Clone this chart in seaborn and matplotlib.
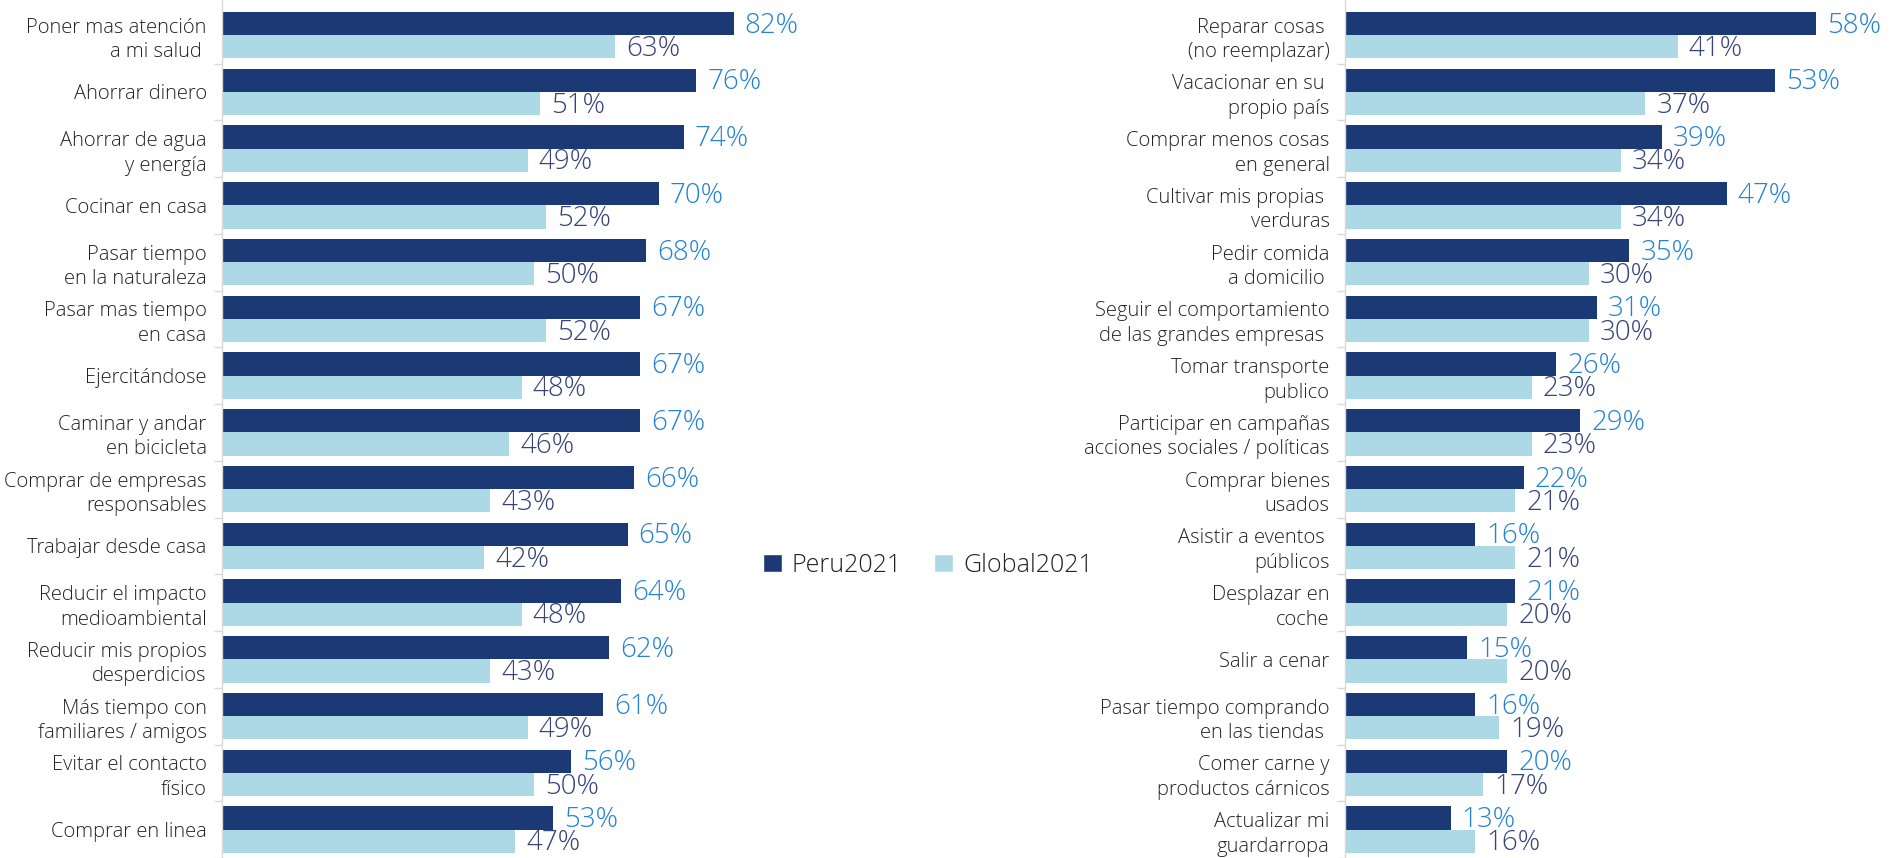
import numpy as np
import pandas as pd
import matplotlib.pyplot as plt
import seaborn as sns
from matplotlib.patches import Patch

# Datos
left_cats = ["Poner mas atención\na mi salud ", "Ahorrar dinero", "Ahorrar de agua\ny energía",
             "Cocinar en casa", "Pasar tiempo\nen la naturaleza", "Pasar mas tiempo\nen casa",
             "Ejercitándose", "Caminar y andar\nen bicicleta", "Comprar de empresas\nresponsables",
             "Trabajar desde casa", "Reducir el impacto\nmedioambiental", "Reducir mis propios\ndesperdicios",
             "Más tiempo con\nfamiliares / amigos", "Evitar el contacto\nfísico", "Comprar en linea"]
left_peru = [82, 76, 74, 70, 68, 67, 67, 67, 66, 65, 64, 62, 61, 56, 53]
left_global = [63, 51, 49, 52, 50, 52, 48, 46, 43, 42, 48, 43, 49, 50, 47]

right_cats = ["Reparar cosas \n(no reemplazar)", "Vacacionar en su \npropio país", "Comprar menos cosas\nen general",
              "Cultivar mis propias \nverduras", "Pedir comida\na domicilio ", "Seguir el comportamiento\nde las grandes empresas ",
              "Tomar transporte\npublico", "Participar en campañas\nacciones sociales / políticas", "Comprar bienes\nusados",
              "Asistir a eventos \npúblicos", "Desplazar en\ncoche", "Salir a cenar",
              "Pasar tiempo comprando\nen las tiendas ", "Comer carne y\nproductos cárnicos", "Actualizar mi\nguardarropa"]
right_peru = [58, 53, 39, 47, 35, 31, 26, 29, 22, 16, 21, 15, 16, 20, 13]
right_global = [41, 37, 34, 34, 30, 30, 23, 23, 21, 21, 20, 20, 19, 17, 16]

series = ["Peru2021", "Global2021"]
colors = ["#1b3a75", "#add8e6"]
label_colors = ["#2282d6", "#36427a"]

sns.set_theme(style="white")
plt.rcParams['font.family'] = ['Open Sans', 'DejaVu Sans']

fig = plt.figure(figsize=(19, 8.58), dpi=100)
ax_l = fig.add_axes([222 / 1900, 0, 624 / 1900, 1])
ax_r = fig.add_axes([1345 / 1900, 0, 552 / 1900, 1])


def draw_panel(ax, cats, peru, glob, xmax):
    df = pd.DataFrame({
        "cat": cats * 2,
        "valor": peru + glob,
        "serie": [series[0]] * len(cats) + [series[1]] * len(cats),
    })
    sns.barplot(data=df, y="cat", x="valor", hue="serie", order=cats, hue_order=series,
                orient="h", palette=colors, saturation=1, width=0.82, linewidth=0,
                legend=False, ax=ax)
    for cont, vals, col in zip(ax.containers, [peru, glob], label_colors):
        texts = ax.bar_label(cont, labels=[f"{v}%" for v in vals], padding=8,
                             color=col, fontsize=20, fontweight="light")
        for t in texts:
            t.xyann = (8, -1.5)
    n = len(cats)
    ax.set_xlim(0, xmax)
    ax.set_ylim(n - 1 + 0.43, -0.62)
    ax.set_xlabel("")
    ax.set_ylabel("")
    ax.set_xticks([])
    ax.set_yticks(np.arange(n) + 0.5, minor=True)
    ax.tick_params(axis="y", which="major", length=0, pad=11, labelsize=14.5, labelcolor="#222222")
    ax.tick_params(axis="y", which="minor", length=6, color="#d9d9d9", width=1, left=True)
    for lab in ax.get_yticklabels():
        lab.set_linespacing(1.3)
        lab.set_fontweight("light")
    for s in ["top", "right", "bottom"]:
        ax.spines[s].set_visible(False)
    ax.spines["left"].set_color("#d9d9d9")
    ax.spines["left"].set_linewidth(1)


draw_panel(ax_l, left_cats, left_peru, left_global, 100)
draw_panel(ax_r, right_cats, right_peru, right_global, 68)

handles = [Patch(facecolor=c, label=s) for c, s in zip(colors, series)]
fig.legend(handles=handles, loc="center", bbox_to_anchor=(928 / 1900, 1 - 565 / 858),
           ncol=2, frameon=False, handlelength=0.75, handleheight=0.75,
           handletextpad=0.4, columnspacing=1.3, labelcolor="#222222",
           prop={"size": 18, "weight": "light"})

fig.savefig("out.png", dpi=100)
